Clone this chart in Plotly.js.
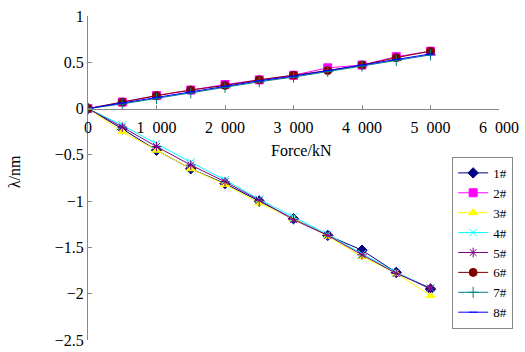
<!DOCTYPE html>
<html>
<head>
<meta charset="utf-8">
<script src="https://cdn.plot.ly/plotly-3.0.1.min.js"></script>
<style>html,body{margin:0;padding:0;background:#fff;}#chart{width:525px;height:352px;}</style>
</head>
<body>
<div id="chart"></div>
<script>
const force = [0, 500, 1000, 1500, 2000, 2500, 3000, 3500, 4000, 4500, 5000];
const s1 = [0, -0.22, -0.45, -0.65, -0.81, -1.00, -1.19, -1.37, -1.53, -1.77, -1.95];
const s2 = [0, 0.07, 0.14, 0.20, 0.26, 0.31, 0.36, 0.44, 0.47, 0.56, 0.62];
const s3 = [0, -0.25, -0.45, -0.65, -0.82, -1.02, -1.19, -1.38, -1.60, -1.78, -2.02];
const s4 = [0, -0.18, -0.38, -0.58, -0.77, -0.98, -1.17, -1.36, -1.57, -1.77, -1.94];
const s5 = [0, -0.20, -0.41, -0.61, -0.79, -0.99, -1.20, -1.37, -1.58, -1.78, -1.94];
const s6 = [0, 0.07, 0.14, 0.20, 0.25, 0.31, 0.36, 0.41, 0.47, 0.55, 0.62];
const s7 = [0, 0.05, 0.11, 0.17, 0.23, 0.29, 0.34, 0.40, 0.46, 0.52, 0.58];
const s8 = [0, 0.06, 0.12, 0.18, 0.24, 0.30, 0.35, 0.41, 0.47, 0.53, 0.59];
const names = ["1#", "2#", "3#", "4#", "5#", "6#", "7#", "8#"];
const xTickVals = [0, 1000, 2000, 3000, 4000, 5000, 6000];
const xTickText = ["0", "1\u2002000", "2\u2002000", "3\u2002000", "4\u2002000", "5\u2002000", "6\u2002000"];

const series = [s1, s2, s3, s4, s5, s6, s7, s8];
const styles = [
  {color: "#000080", symbol: "diamond", size: 8},
  {color: "#FF00FF", symbol: "square", size: 8},
  {color: "#FFFF00", symbol: "triangle-up", size: 8},
  {color: "#00FFFF", symbol: "x-thin-open", size: 8},
  {color: "#800080", symbol: "asterisk-open", size: 8},
  {color: "#800000", symbol: "circle", size: 8},
  {color: "#008080", symbol: "cross-thin-open", size: 8},
  {color: "#0000FF", symbol: "line-ew-open", size: 6}
];
const font = "Liberation Serif, Times New Roman, serif";
const traces = series.map((s, i) => ({
  x: force, y: s, name: names[i], type: "scatter", mode: "lines+markers",
  line: {color: styles[i].color, width: 1},
  marker: {color: styles[i].color, symbol: styles[i].symbol, size: styles[i].size,
           line: {color: styles[i].color, width: 1}}
}));

const layout = {
  width: 525, height: 352,
  margin: {l: 88, r: 23, t: 16, b: 12},
  paper_bgcolor: "#fff", plot_bgcolor: "#fff",
  font: {family: font, size: 16, color: "#000"},
  showlegend: true,
  legend: {x: 0.886, y: 0.565, xanchor: "left", yanchor: "top",
           bordercolor: "#888", borderwidth: 1, bgcolor: "#fff",
           font: {family: font, size: 13, color: "#000"},
           tracegroupgap: 0, itemwidth: 30},
  xaxis: {range: [0, 6000], tickvals: xTickVals, ticktext: xTickText,
          anchor: "free", position: 2.5 / 3.5,
          showline: true, linecolor: "#888", linewidth: 1,
          ticks: "inside", ticklen: 4, tickcolor: "#888",
          ticklabelstandoff: 4,
          showgrid: false, zeroline: false, automargin: false,
          tickfont: {family: font, size: 16}},
  yaxis: {range: [-2.5, 1], dtick: 0.5, tick0: 0, domain: [0, 1],
          showline: true, linecolor: "#888", linewidth: 1,
          ticks: "inside", ticklen: 4, tickcolor: "#888",
          showgrid: false, zeroline: false, automargin: false,
          tickfont: {family: font, size: 16}},
  annotations: [
    {text: "Force/kN", xref: "paper", yref: "paper", x: 0.519, y: 0.586,
     xanchor: "center", yanchor: "middle", showarrow: false,
     font: {family: font, size: 16}},
    {text: "λ/nm", xref: "paper", yref: "paper", x: -0.179, y: 0.519,
     xanchor: "center", yanchor: "middle", showarrow: false, textangle: -90,
     font: {family: font, size: 16}}
  ]
};
Plotly.newPlot("chart", traces, layout, {staticPlot: true});
</script>
</body>
</html>
